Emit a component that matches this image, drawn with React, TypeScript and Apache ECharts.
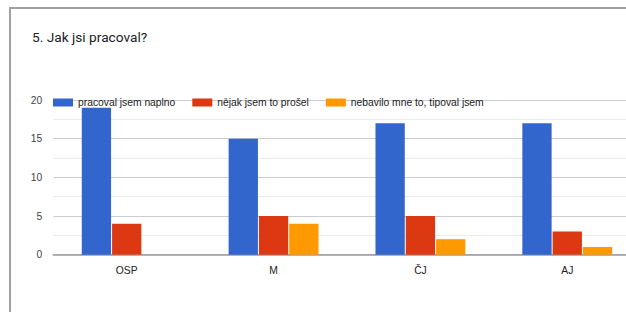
import React, { useEffect, useRef } from "react";
import * as echarts from "echarts";

const categories = ["OSP", "M", "ČJ", "AJ"];
const seriesNames = ["pracoval jsem naplno", "nějak jsem to prošel", "nebavilo mne to, tipoval jsem"];
const fullEffort = [19, 15, 17, 17];
const somehow = [4, 5, 5, 3];
const guessed = [0, 4, 2, 1];
const colors = ["#3366cc", "#dc3912", "#ff9900"];
const titleText = "5. Jak jsi pracoval?";

export default function App() {
  const ref = useRef<HTMLDivElement>(null);
  useEffect(() => {
    if (!ref.current) return;
    const chart = echarts.init(ref.current, null, { renderer: "svg" });
    const font = "'Liberation Sans', Arial, sans-serif";
    const values = [fullEffort, somehow, guessed];
    chart.setOption({
      animation: false,
      backgroundColor: "#ffffff",
      color: colors,
      title: {
        text: titleText,
        left: 32,
        top: 30,
        padding: 0,
        textStyle: { fontFamily: "Roboto", fontSize: 13.7, fontWeight: "normal", color: "#202124" },
      },
      legend: {
        left: 53,
        top: 97.5,
        padding: 0,
        icon: "rect",
        itemWidth: 20,
        itemHeight: 8,
        itemGap: 17,
        textStyle: { fontFamily: font, fontSize: 10.3, color: "#222222" },
        data: seriesNames,
      },
      grid: { left: 53.3, top: 100, width: 587.4, height: 154.7, containLabel: false },
      xAxis: {
        type: "category",
        data: categories,
        axisTick: { show: false },
        axisLine: { show: true, lineStyle: { color: "#9a9a9a", width: 1.6 } },
        axisLabel: { fontFamily: font, fontSize: 10.3, color: "#222222", margin: 11 },
      },
      yAxis: {
        type: "value",
        min: 0,
        max: 20,
        interval: 5,
        axisLine: { show: false },
        axisTick: { show: false },
        axisLabel: { fontFamily: font, fontSize: 10.3, color: "#444444", margin: 11 },
        splitLine: { show: true, lineStyle: { color: "#cccccc", width: 1 } },
        minorTick: { show: false, splitNumber: 2 },
        minorSplitLine: { show: true, lineStyle: { color: "#ebebeb", width: 1 } },
      },
      series: seriesNames.map((name, i) => ({
        name,
        type: "bar",
        data: values[i],
        barWidth: 29.3,
        barGap: "3.4%",
        itemStyle: { color: colors[i] },
      })),
      graphic: [
        {
          type: "line",
          shape: { x1: 9, y1: 8, x2: 700, y2: 8 },
          style: { stroke: "#a0a0a0", lineWidth: 2 },
          z: 100,
        },
        {
          type: "line",
          shape: { x1: 10, y1: 7, x2: 10, y2: 312 },
          style: { stroke: "#a0a0a0", lineWidth: 2 },
          z: 100,
        },
      ],
    });
    return () => chart.dispose();
  }, []);
  return (
    <div
      style={{ position: "fixed", left: 0, top: 0, width: 626, height: 312, overflow: "hidden", background: "#fff" }}
    >
      <div ref={ref} style={{ width: 660, height: 312 }} />
    </div>
  );
}
